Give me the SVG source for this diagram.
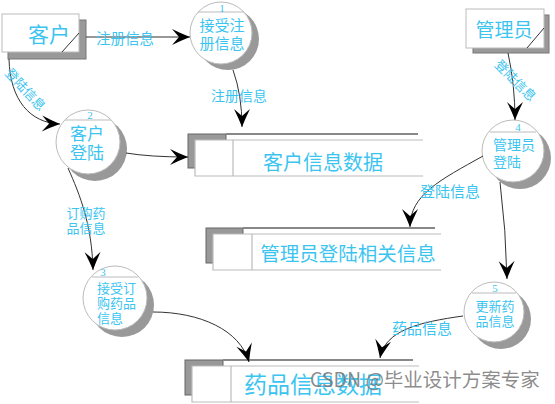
<svg xmlns="http://www.w3.org/2000/svg" width="555" height="404" viewBox="0 0 555 404">
<defs>
<style>
.t{font-family:"Noto Sans CJK SC","Liberation Sans",sans-serif;fill:#3cc4f0;text-anchor:middle;dominant-baseline:central}
.n{font-family:"Liberation Serif",serif;fill:#3cc4f0;text-anchor:middle;font-size:11px}
.shadow{fill:#999;stroke:#777;stroke-width:1}
.box{fill:#fff;stroke:#bbb;stroke-width:1}
.circ{fill:#fff;stroke:#bbb;stroke-width:1}
.chord{stroke:#bbb;stroke-width:1}
.diag{stroke:#333;stroke-width:1}
.sline{stroke:#bbb;stroke-width:1.2;fill:none}
.stop{stroke:#888;stroke-width:2}
.c{fill:none;stroke:#333;stroke-width:1;marker-end:url(#arr)}
</style>
<marker id="arr" viewBox="-20 -10 22 20" refX="0" refY="0" markerWidth="22" markerHeight="20" markerUnits="userSpaceOnUse" orient="auto">
<path d="M0,0 Q-10,-4 -18,-8 L-11,0 L-18,8 Q-10,4 0,0 Z" fill="#000"/>
</marker>
</defs>
<rect width="555" height="404" fill="#fff"/>

<g id="customer">
<rect class="shadow" x="8" y="20" width="78" height="39"/>
<rect class="box" x="2" y="14" width="77" height="38"/>
<line class="diag" x1="62" y1="52" x2="79" y2="33"/>
<text class="t" x="49" y="33" font-size="21">客户</text>
</g>

<g id="admin">
<rect class="shadow" x="473" y="15" width="76" height="38"/>
<rect class="box" x="466" y="9" width="78" height="39"/>
<line class="diag" x1="527" y1="48" x2="544" y2="28"/>
<text class="t" x="504" y="28" font-size="19">管理员</text>
</g>

<g id="p1">
<circle cx="228" cy="39" r="31" fill="#999"/>
<circle class="circ" cx="221" cy="33" r="31"/>
<line class="chord" x1="198" y1="12" x2="244" y2="12"/>
<text class="n" x="222" y="12">1</text>
<text class="t" x="222" y="24" font-size="15">接受注</text>
<text class="t" x="222" y="42" font-size="15">册信息</text>
</g>

<g id="p2">
<circle cx="95" cy="149" r="32" fill="#999"/>
<circle class="circ" cx="88" cy="142" r="32"/>
<line class="chord" x1="65" y1="120" x2="111" y2="120"/>
<text class="n" x="90" y="119">2</text>
<text class="t" x="87" y="132" font-size="17">客户</text>
<text class="t" x="87" y="151" font-size="17">登陆</text>
</g>

<g id="p3">
<circle cx="122" cy="305" r="32" fill="#999"/>
<circle class="circ" cx="115" cy="298" r="32"/>
<line class="chord" x1="92" y1="277" x2="138" y2="277"/>
<text class="n" x="103" y="276">3</text>
<text class="t" x="97" y="287" font-size="13" style="text-anchor:start">接受订</text>
<text class="t" x="97" y="302" font-size="13" style="text-anchor:start">购药品</text>
<text class="t" x="97" y="317" font-size="13" style="text-anchor:start">信息</text>
</g>

<g id="p4">
<circle cx="520" cy="158" r="31" fill="#999"/>
<circle class="circ" cx="513" cy="151" r="31"/>
<line class="chord" x1="490" y1="132" x2="536" y2="132"/>
<text class="n" x="518" y="131">4</text>
<text class="t" x="493" y="144" font-size="14" style="text-anchor:start">管理员</text>
<text class="t" x="493" y="161" font-size="14" style="text-anchor:start">登陆</text>
</g>

<g id="p5">
<circle cx="501" cy="319" r="30" fill="#999"/>
<circle class="circ" cx="494" cy="312" r="30"/>
<line class="chord" x1="472" y1="293" x2="516" y2="293"/>
<text class="n" x="495" y="292">5</text>
<text class="t" x="495" y="305" font-size="13">更新药</text>
<text class="t" x="495" y="320" font-size="13">品信息</text>
</g>

<g id="store1">
<rect x="188" y="134" width="38" height="34" fill="#999" stroke="#666" stroke-width="1"/>
<line class="stop" x1="226" y1="134" x2="418" y2="134"/>
<rect x="195" y="140" width="228" height="36" fill="#fff"/>
<path class="sline" d="M423,140 H195 V176 H423 M233,140 V176"/>
<text class="t" x="323" y="161" font-size="20">客户信息数据</text>
</g>

<g id="store2">
<rect x="206" y="228" width="37" height="35" fill="#999" stroke="#666" stroke-width="1"/>
<line class="stop" x1="243" y1="228" x2="435" y2="228"/>
<rect x="213" y="234" width="228" height="36" fill="#fff"/>
<path class="sline" d="M441,234 H213 V270 H441 M252,234 V270"/>
<text class="t" x="348" y="252" font-size="19.5">管理员登陆相关信息</text>
</g>

<g id="store3">
<rect x="185" y="360" width="38" height="35" fill="#999" stroke="#666" stroke-width="1"/>
<line class="stop" x1="223" y1="360" x2="413" y2="360"/>
<rect x="192" y="366" width="227" height="36" fill="#fff"/>
<path class="sline" d="M419,366 H192 V402 H419 M231,366 V402"/>
<text class="t" x="313" y="383" font-size="23">药品信息数据</text>
</g>

<g id="connectors">
<path class="c" d="M86,37 L190,37"/>
<path class="c" d="M233,70 Q242,95 242,127"/>
<path class="c" d="M9,59 C10,100 30,123 60,124"/>
<path class="c" d="M126,153 Q150,157 188,157"/>
<path class="c" d="M68,168 C80,195 92,225 93,270"/>
<path class="c" d="M153,312 C200,312 240,330 249,362"/>
<path class="c" d="M508,53 Q515,85 515,120"/>
<path class="c" d="M483,156 C440,180 410,195 410,227"/>
<path class="c" d="M500,182 Q506,230 507,279"/>
<path class="c" d="M463,316 C420,322 385,330 380,358"/>
</g>

<g id="labels">
<text class="t" x="125" y="37" font-size="14.5">注册信息</text>
<text class="t" x="239" y="95" font-size="14">注册信息</text>
<text class="t" x="26" y="89" font-size="13" transform="rotate(47 26 89)">登陆信息</text>
<text class="t" x="86" y="212" font-size="13">订购药</text>
<text class="t" x="86" y="227" font-size="13">品信息</text>
<text class="t" x="516" y="80" font-size="13" transform="rotate(45 516 80)">登陆信息</text>
<text class="t" x="450" y="190" font-size="15">登陆信息</text>
<text class="t" x="422" y="327" font-size="15">药品信息</text>
</g>

<text x="310" y="387" font-family="'Noto Sans CJK SC','Liberation Sans',sans-serif" font-size="19.5" fill="#777" fill-opacity="0.85">CSDN @毕业设计方案专家</text>
</svg>
